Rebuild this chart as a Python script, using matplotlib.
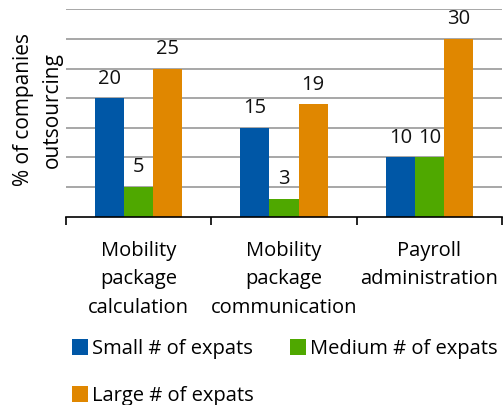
import matplotlib
matplotlib.use("Agg")
import matplotlib.pyplot as plt
import numpy as np

categories = ["Mobility\npackage\ncalculation", "Mobility\npackage\ncommunication", "Payroll\nadministration"]
series_names = ["Small # of expats", "Medium # of expats", "Large # of expats"]
small = [20, 15, 10]
medium = [5, 3, 10]
large = [25, 19, 30]
colors = ["#0057a6", "#4fa800", "#e08700"]

plt.rcParams['font.family'] = ['Open Sans', 'DejaVu Sans']

fig = plt.figure(figsize=(5.04, 4.05), dpi=100)
ax = fig.add_axes([66/504, 1-216.7/405, (502-66)/504, (216.7-9.3)/405])

x = np.arange(len(categories))
w = 0.2
handles = []
for i, (vals, name, c) in enumerate(zip([small, medium, large], series_names, colors)):
    bars = ax.bar(x + (i-1)*w, vals, width=w, color=c, label=name, zorder=3)
    handles.append(bars)
    for xi, v in zip(x + (i-1)*w, vals):
        ax.annotate(str(v), (xi, v), xytext=(0, 10.5), textcoords='offset points',
                    ha='center', va='baseline', fontsize=14.5, color='#111111')

ax.set_ylim(0, 35)
ax.set_xlim(-0.5, 2.5)
ax.set_yticks(np.arange(5, 36, 5))
ax.yaxis.grid(True, color='#a0a0a0', linewidth=1.3, zorder=0)
ax.tick_params(axis='y', length=0, labelleft=False)
for s in ['left', 'right', 'top']:
    ax.spines[s].set_visible(False)
ax.spines['bottom'].set_linewidth(1.2)
ax.spines['bottom'].set_zorder(4)

ax.set_xticks(x)
ax.set_xticklabels(categories, fontsize=14.5, linespacing=1.55)
ax.tick_params(axis='x', which='major', length=0, pad=17.5)
ax.set_xticks([-0.5, 0.5, 1.5, 2.5], minor=True)
ax.tick_params(axis='x', which='minor', length=6, width=1.2, direction='out')

fig.text(38/504, 1-110/405, "% of companies\noutsourcing", rotation=90, ha='center', va='center',
         fontsize=15, linespacing=1.45)

order = [0, 2, 1]
leg = fig.legend([handles[i] for i in order], [series_names[i] for i in order], ncol=2,
                 loc='upper left', bbox_to_anchor=(72/504, 1-339/405), frameon=False,
                 fontsize=14.5, handlelength=0.8, handleheight=0.8, handletextpad=0.2,
                 columnspacing=1.8, labelspacing=1.35, borderpad=0, borderaxespad=0)

fig.savefig("out.png", dpi=100)
